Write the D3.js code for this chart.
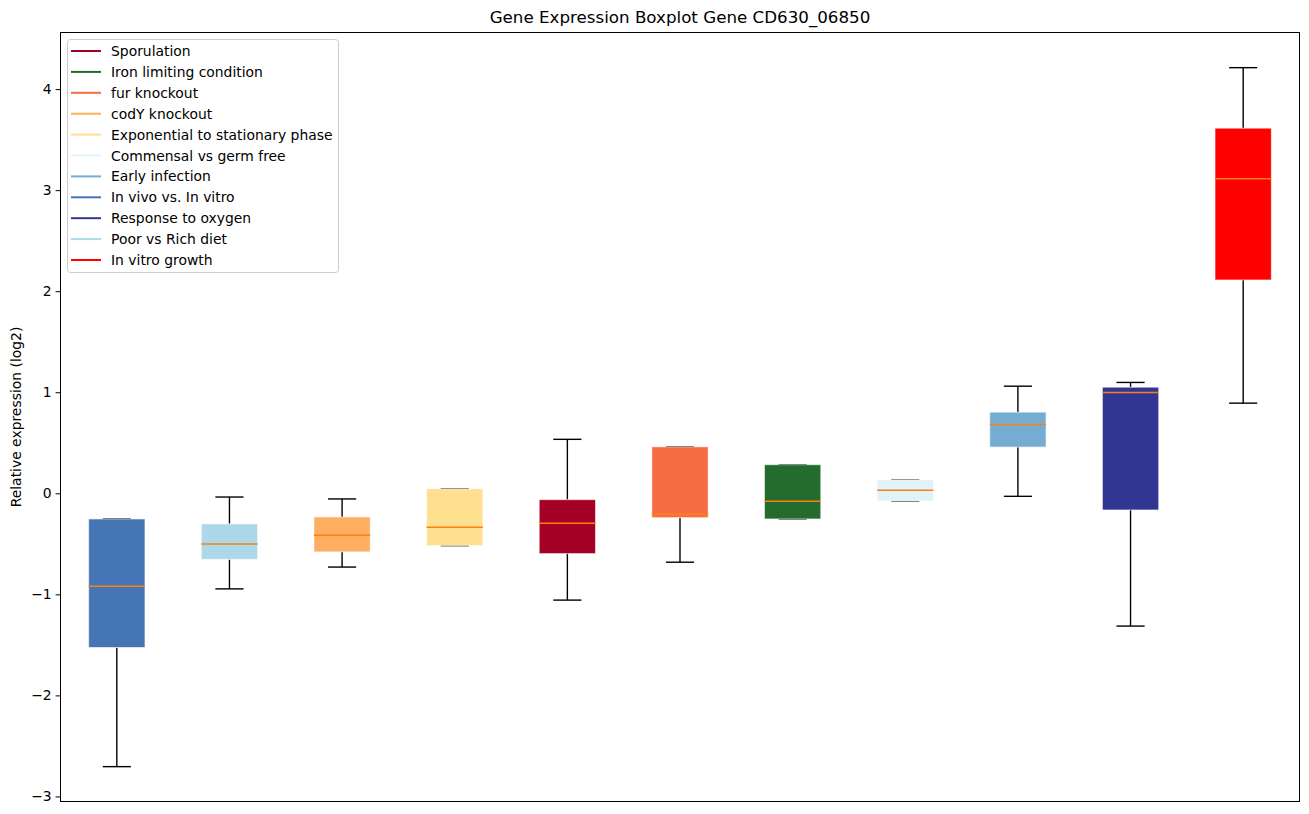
<!DOCTYPE html>
<html><head><meta charset="utf-8">
<script src="https://cdn.jsdelivr.net/npm/d3@7"></script>
<style>body{margin:0;background:#fff}svg{display:block;font-family:"DejaVu Sans",sans-serif}</style>
</head><body><svg id="c" width="1309" height="814"></svg>
<script>
// Boxes in plotted order (left to right)
const categories = ["In vivo vs. In vitro","Poor vs Rich diet","codY knockout","Exponential to stationary phase","Sporulation","fur knockout","Iron limiting condition","Commensal vs germ free","Early infection","Response to oxygen","In vitro growth"];
const whiskerLow = [-2.705,-0.946,-0.73,-0.518,-1.057,-0.682,-0.254,-0.076,-0.03,-1.314,0.892];
const q1Values   = [-1.526,-0.654,-0.58,-0.518,-0.597,-0.241,-0.254,-0.076,0.457,-0.165,2.111];
const medians    = [-0.919,-0.501,-0.415,-0.336,-0.296,-0.208,-0.079,0.03,0.682,0.998,3.113];
const q3Values   = [-0.254,-0.303,-0.234,0.045,-0.063,0.46,0.283,0.134,0.803,1.05,3.613];
const whiskerHigh= [-0.254,-0.037,-0.056,0.045,0.534,0.46,0.283,0.134,1.06,1.097,4.212];
const legendOrder = ["Sporulation","Iron limiting condition","fur knockout","codY knockout","Exponential to stationary phase","Commensal vs germ free","Early infection","In vivo vs. In vitro","Response to oxygen","Poor vs Rich diet","In vitro growth"];
const colorMap = {"Sporulation":"#a50026","Iron limiting condition":"#246b2e","fur knockout":"#f46d43","codY knockout":"#fdae61","Exponential to stationary phase":"#fee090","Commensal vs germ free":"#e0f3f8","Early infection":"#74add1","In vivo vs. In vitro":"#4575b4","Response to oxygen":"#313695","Poor vs Rich diet":"#abd9e9","In vitro growth":"#ff0000"};
const yTicks = [-3,-2,-1,0,1,2,3,4];

const svg = d3.select("#c");
const L=60.5, R=1299.5, T=32.5, B=801.5;
const x = d3.scaleLinear().domain([0.5, categories.length+0.5]).range([L,R]);
const y = d3.scaleLinear().domain([-3.05,4.56]).range([B,T]);
const bw = x(1.25)-x(1);

const data = categories.map((c,i)=>({c,pos:i+1,lo:whiskerLow[i],q1:q1Values[i],med:medians[i],q3:q3Values[i],hi:whiskerHigh[i]}));

const g = svg.append("g");
// whiskers
data.forEach(d=>{
  const cx = x(d.pos);
  g.append("line").attr("x1",cx).attr("x2",cx).attr("y1",y(d.q1)).attr("y2",y(d.lo)).attr("stroke","#000").attr("stroke-width",1.4);
  g.append("line").attr("x1",cx).attr("x2",cx).attr("y1",y(d.q3)).attr("y2",y(d.hi)).attr("stroke","#000").attr("stroke-width",1.4);
  [d.lo,d.hi].forEach(v=>g.append("line").attr("x1",cx-bw/2).attr("x2",cx+bw/2).attr("y1",y(v)).attr("y2",y(v)).attr("stroke","#000").attr("stroke-width",1.4));
});
// boxes
data.forEach(d=>{
  const cx = x(d.pos);
  g.append("rect").attr("x",cx-bw).attr("width",bw*2).attr("y",y(d.q3)).attr("height",Math.max(0,y(d.q1)-y(d.q3)))
    .attr("fill",colorMap[d.c]).attr("stroke","#ffffff").attr("stroke-opacity",0.6).attr("stroke-width",1);
  g.append("line").attr("x1",cx-bw).attr("x2",cx+bw).attr("y1",y(d.med)).attr("y2",y(d.med)).attr("stroke","#ff7f0e").attr("stroke-width",1.5);
});

// axes frame
svg.append("rect").attr("x",L).attr("y",T).attr("width",R-L).attr("height",B-T).attr("fill","none").attr("stroke","#000").attr("stroke-width",1);
const yAxis = d3.axisLeft(y).tickValues(yTicks).tickSize(4.9).tickPadding(4).tickFormat(d=>d<0?"\u2212"+Math.abs(d):String(d));
const ya = svg.append("g").attr("transform",`translate(${L},0)`).call(yAxis);
ya.select(".domain").remove();
ya.selectAll("text").attr("font-size",13.9).attr("font-family","DejaVu Sans").attr("fill","#000");
ya.selectAll("line").attr("stroke","#000");

svg.append("text").attr("x",(L+R)/2).attr("y",23).attr("text-anchor","middle").attr("font-size",16.7).text("Gene Expression Boxplot Gene CD630_06850");
svg.append("text").attr("transform",`translate(21,${(T+B)/2}) rotate(-90)`).attr("text-anchor","middle").attr("font-size",13.9).text("Relative expression (log2)");

// legend
const lg = svg.append("g");
lg.append("rect").attr("x",67.5).attr("y",39.5).attr("width",271).attr("height",233).attr("rx",3).attr("fill","#fff").attr("fill-opacity",0.8).attr("stroke","#ccc");
legendOrder.forEach((c,i)=>{
  const yy = 51 + i*20.9;
  lg.append("line").attr("x1",71).attr("x2",101).attr("y1",yy).attr("y2",yy).attr("stroke",colorMap[c]).attr("stroke-width",2);
  lg.append("text").attr("x",111).attr("y",yy+5).attr("font-size",13.9).text(c);
});
</script></body></html>
